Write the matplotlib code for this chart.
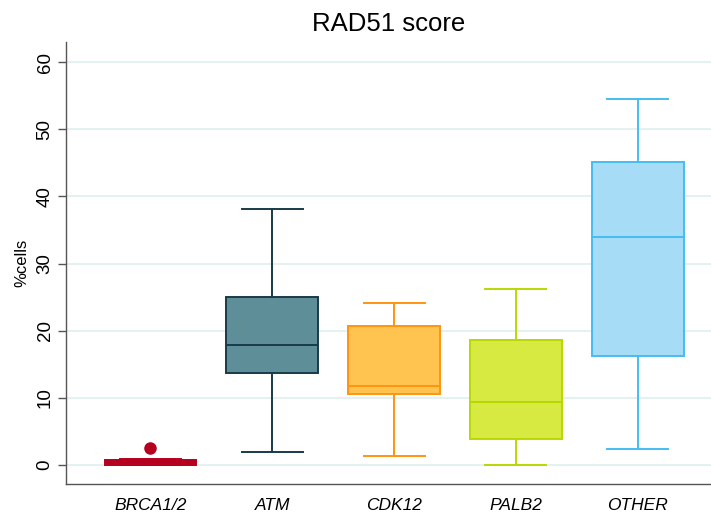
import matplotlib.pyplot as plt

# values (percent of cells)
groups = ["BRCA1/2", "ATM", "CDK12", "PALB2", "OTHER"]
whis_lo = [0.0, 1.9, 1.3, 0.0, 2.4]
q1 = [0.0, 13.7, 10.6, 3.9, 16.2]
medians = [0.1, 17.9, 11.8, 9.4, 33.9]
q3 = [0.7, 25.0, 20.7, 18.6, 45.2]
whis_hi = [0.9, 38.2, 24.1, 26.2, 54.5]
outliers = [[2.5], [], [], [], []]

fills = ["#B5001F", "#5E8F99", "#FFC34F", "#D7EA42", "#A6DCF6"]
edges = ["#B5001F", "#1A3A48", "#FF9410", "#B9D800", "#45BDF0"]

plt.rcParams['font.family'] = ['Liberation Sans', 'DejaVu Sans']

fig = plt.figure(figsize=(7.11, 5.12), dpi=100)
ax = fig.add_axes([0.093, 0.055, 0.907, 0.863])

stats = []
for i, name in enumerate(groups):
    stats.append({"label": name, "whislo": whis_lo[i], "q1": q1[i], "med": medians[i],
                  "q3": q3[i], "whishi": whis_hi[i], "fliers": outliers[i]})

pos = list(range(1, len(groups) + 1))
res = ax.bxp(stats, positions=pos, widths=0.75, capwidths=0.5, patch_artist=True,
             showfliers=True, zorder=3)

for i in range(len(groups)):
    res["boxes"][i].set_facecolor(fills[i])
    res["boxes"][i].set_edgecolor(edges[i])
    res["boxes"][i].set_linewidth(1.4)
    res["medians"][i].set_color(edges[i])
    res["medians"][i].set_linewidth(1.4)
    for ln in res["whiskers"][2 * i:2 * i + 2] + res["caps"][2 * i:2 * i + 2]:
        ln.set_color(edges[i])
        ln.set_linewidth(1.4)
    res["fliers"][i].set_marker("o")
    res["fliers"][i].set_markerfacecolor(edges[i])
    res["fliers"][i].set_markeredgecolor(edges[i])
    res["fliers"][i].set_markersize(8)

ax.set_xlim(0.31, 5.6)
ax.set_ylim(-2.8, 63)
ax.set_yticks([0, 10, 20, 30, 40, 50, 60])
ax.yaxis.grid(True, color="#E2F0F0", linewidth=1.3, zorder=0)
ax.set_axisbelow(True)

for s in ["top", "right"]:
    ax.spines[s].set_visible(False)
for s in ["left", "bottom"]:
    ax.spines[s].set_color("#555555")
    ax.spines[s].set_linewidth(1.0)

ax.tick_params(axis="x", length=0, pad=10, labelsize=12.5)
ax.tick_params(axis="y", length=6, width=1.0, color="#555555", labelsize=13.5, pad=3)
for lab in ax.get_yticklabels():
    lab.set_rotation(90)
    lab.set_va("center")
for lab in ax.get_xticklabels():
    lab.set_style("italic")

ax.set_ylabel("%cells", fontsize=12, labelpad=5)
ax.set_title("RAD51 score", fontsize=18.5, pad=8)

fig.savefig("out.png", dpi=100)
